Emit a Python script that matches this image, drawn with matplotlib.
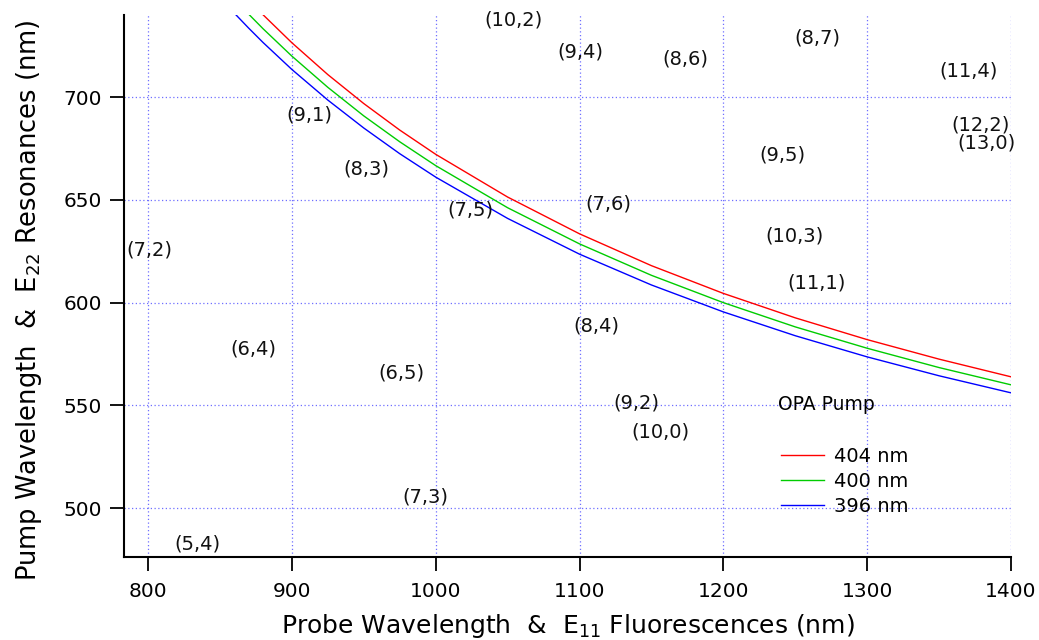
import matplotlib
matplotlib.use("Agg")
import matplotlib.pyplot as plt

# ---- data ----
x_red = [870, 880, 900, 925, 950, 975, 1000, 1050, 1100, 1150, 1200, 1250, 1300, 1350, 1400]
y_red = [747.3, 740.1, 726.5, 711.0, 696.9, 684.0, 672.2, 651.4, 633.5, 618.0, 604.5, 592.6, 582.0, 572.5, 563.9]

x_green = [860, 870, 880, 900, 925, 950, 975, 1000, 1050, 1100, 1150, 1200, 1250, 1300, 1350, 1400]
y_green = [747.8, 740.4, 733.3, 720.0, 704.8, 690.9, 678.3, 666.7, 646.2, 628.6, 613.3, 600.0, 588.2, 577.8, 568.4, 560.0]

x_blue = [850, 860, 870, 880, 900, 925, 950, 975, 1000, 1050, 1100, 1150, 1200, 1250, 1300, 1350, 1400]
y_blue = [748.5, 740.9, 733.6, 726.6, 713.5, 698.6, 685.0, 672.5, 661.1, 641.0, 623.6, 608.6, 595.5, 583.9, 573.6, 564.4, 556.1]

series_labels = ["404 nm", "400 nm", "396 nm"]

chirality_labels = ["(10,2)", "(9,4)", "(8,6)", "(8,7)", "(11,4)", "(12,2)", "(13,0)",
                    "(9,1)", "(8,3)", "(7,5)", "(7,6)", "(7,2)", "(9,5)", "(10,3)",
                    "(11,1)", "(6,4)", "(6,5)", "(8,4)", "(9,2)", "(10,0)", "(7,3)", "(5,4)"]
chirality_x = [1053.8, 1100.4, 1173.4, 1265.1, 1370.8, 1378.5, 1383.3,
               911.9, 951.6, 1023.9, 1119.8, 800.7, 1240.8, 1249.8,
               1265.1, 873.0, 975.9, 1111.5, 1139.3, 1156.0, 992.6, 834.4]
chirality_y = [737.5, 721.9, 718.5, 728.7, 712.7, 686.4, 677.6,
               691.2, 665.0, 645.0, 647.9, 625.5, 671.8, 632.4,
               609.5, 577.4, 565.7, 588.6, 551.1, 537.0, 505.4, 482.5]

x_ticks = [800, 900, 1000, 1100, 1200, 1300, 1400]
y_ticks = [500, 550, 600, 650, 700]

plt.rcParams['font.family'] = ['DejaVu Sans']
plt.rcParams['mathtext.default'] = 'regular'

fig = plt.figure(figsize=(10.39, 6.40), dpi=100)
ax = fig.add_axes([124/1039, 1 - 557/640, (1011-124)/1039, (557-15)/640])

ax.set_xlim(783.3, 1400)
ax.set_ylim(476.2, 740)

grid_col = '#6f6fff'
for xv in x_ticks:
    ax.axvline(xv, color=grid_col, linestyle=(0, (1, 2)), linewidth=0.9, zorder=0)
for yv in y_ticks:
    ax.axhline(yv, color=grid_col, linestyle=(0, (1, 2)), linewidth=0.9, zorder=0)

l1, = ax.plot(x_red, y_red, color='#ff0000', linewidth=1.0, label=series_labels[0])
l2, = ax.plot(x_green, y_green, color='#00cc00', linewidth=1.0, label=series_labels[1])
l3, = ax.plot(x_blue, y_blue, color='#0000ff', linewidth=1.0, label=series_labels[2])

for t, xx, yy in zip(chirality_labels, chirality_x, chirality_y):
    ax.text(xx, yy, t, ha='center', va='center', fontsize=14, color='#111111',
            clip_on=False)

for s in ['top', 'right']:
    ax.spines[s].set_visible(False)
for s in ['left', 'bottom']:
    ax.spines[s].set_linewidth(1.5)

ax.set_xticks(x_ticks)
ax.set_yticks(y_ticks)
ax.tick_params(direction='out', length=10, width=1.3, labelsize=14.5)
ax.tick_params(axis='x', pad=8)
ax.tick_params(axis='y', pad=6)

ax.set_xlabel('Probe Wavelength  &  E$_{11}$ Fluorescences (nm)', fontsize=18, labelpad=8)
ax.set_ylabel('Pump Wavelength  &  E$_{22}$ Resonances (nm)', fontsize=18.5)
ax.yaxis.set_label_coords((44 - 124) / 887, (557 - 300) / 542)

# legend
fig.text(826/1039, 1 - 405/640, 'OPA Pump', ha='center', va='center', fontsize=13.5)
leg = ax.legend(handles=[l1, l2, l3], loc='upper left', frameon=False,
                bbox_to_anchor=(781/1039, 1 - 447/640), bbox_transform=fig.transFigure,
                borderpad=0, borderaxespad=0, handlelength=2.2, handletextpad=0.55,
                labelspacing=0.3, fontsize=14)

fig.savefig('out.png', dpi=100)
